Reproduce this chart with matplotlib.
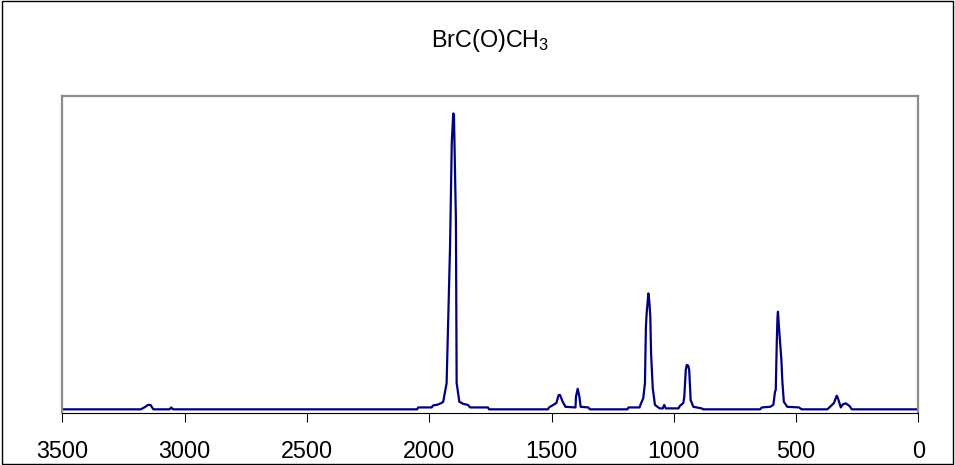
import matplotlib.pyplot as plt
from matplotlib.patches import Rectangle

plt.rcParams.update({
    "font.family": ["Liberation Sans", "DejaVu Sans"],
    "mathtext.fontset": "custom",
    "mathtext.rm": "Liberation Sans",
})

NAVY = "#000080"
GRAY = "#8c8c8c"

TITLE = r"BrC(O)CH$_\mathregular{3}$"
XTICKS = [3500, 3000, 2500, 2000, 1500, 1000, 500, 0]

# IR spectrum (wavenumber, relative absorbance)
wavenumber = [
    3500, 3180, 3165, 3150, 3140, 3128, 3062, 3055, 3048, 2050,
    2045, 1990, 1985, 1965, 1950, 1943, 1929, 1915, 1908, 1902,
    1899, 1891, 1888, 1877, 1860, 1842, 1833, 1760, 1755, 1515,
    1510, 1480, 1477, 1471, 1465, 1455, 1443, 1402, 1400, 1393,
    1386, 1381, 1350, 1343, 1190, 1185, 1140, 1138, 1125, 1118,
    1114, 1111, 1104, 1100, 1096, 1093, 1086, 1077, 1058, 1045,
    1039, 1033, 1022, 981, 975, 961, 957, 951, 947, 941,
    937, 931, 920, 886, 880, 647, 640, 606, 593, 586,
    583, 579, 576, 574, 570, 560, 556, 550, 536, 488,
    477, 372, 361, 345, 334, 330, 317, 310, 297, 282,
    272, 0,
]
absorbance = [
    0.010, 0.010, 0.016, 0.024, 0.024, 0.010, 0.010, 0.016, 0.010, 0.010,
    0.016, 0.016, 0.022, 0.025, 0.030, 0.034, 0.093, 0.523, 0.850, 0.944,
    0.940, 0.607, 0.093, 0.034, 0.027, 0.024, 0.016, 0.016, 0.010, 0.010,
    0.016, 0.030, 0.039, 0.055, 0.055, 0.035, 0.018, 0.016, 0.050, 0.075,
    0.050, 0.018, 0.016, 0.010, 0.010, 0.016, 0.016, 0.021, 0.045, 0.092,
    0.271, 0.313, 0.376, 0.350, 0.302, 0.187, 0.076, 0.024, 0.013, 0.013,
    0.024, 0.013, 0.013, 0.013, 0.021, 0.030, 0.050, 0.134, 0.150, 0.148,
    0.134, 0.039, 0.018, 0.013, 0.010, 0.010, 0.016, 0.018, 0.024, 0.066,
    0.071, 0.218, 0.300, 0.318, 0.271, 0.166, 0.097, 0.034, 0.018, 0.016,
    0.010, 0.010, 0.018, 0.030, 0.053, 0.048, 0.016, 0.025, 0.029, 0.021,
    0.010, 0.010,
]

fig = plt.figure(figsize=(9.55, 4.65), dpi=100)
ax = fig.add_axes([0.0654, 0.1129, 0.8962, 0.6813])

ax.plot(wavenumber, absorbance, color=NAVY, lw=1.6)

ax.set_xlim(3500, 0)
ax.set_ylim(0, 1)
ax.set_xticks(XTICKS)
ax.set_yticks([])
ax.tick_params(axis="x", direction="out", length=6.5, width=0.75,
               labelsize=16.8, pad=13, colors="black")

for side in ("top", "left", "right"):
    ax.spines[side].set_color(GRAY)
    ax.spines[side].set_linewidth(1.6)
ax.spines["bottom"].set_color("black")
ax.spines["bottom"].set_linewidth(0.8)

fig.text(0.5136, 1 - 47 / 465, TITLE, ha="center", va="baseline", fontsize=16.8)

# chart-area border
fig.patches.append(Rectangle((0.002, 0.002), 0.996, 0.996, transform=fig.transFigure,
                             fill=False, edgecolor="black", lw=1.0))

fig.savefig("out.png", dpi=100)
